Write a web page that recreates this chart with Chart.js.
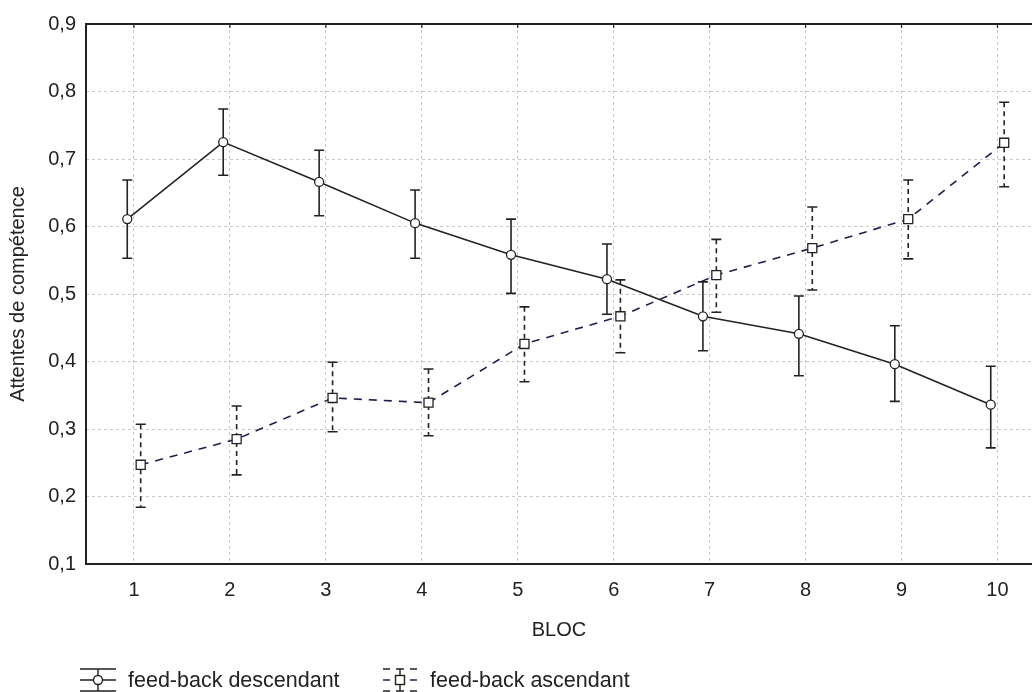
<!DOCTYPE html>
<html lang="fr">
<head>
<meta charset="UTF-8">
<title>Attentes de compétence par bloc</title>
<script src="https://cdn.jsdelivr.net/npm/chart.js"></script>
<style>
    html, body { margin: 0; padding: 0; background: #fff; overflow: hidden; }
    #wrap { width: 1032px; height: 692px; position: relative; }
    canvas { display: block; }
</style>
</head>
<body>
<div id="wrap"><canvas id="chart"></canvas></div>
<script>
// blocs
const BLOCS = [1, 2, 3, 4, 5, 6, 7, 8, 9, 10];
const Y_TICKS = [0.1, 0.2, 0.3, 0.4, 0.5, 0.6, 0.7, 0.8, 0.9];

// feed-back descendant : moyenne, borne basse, borne haute
const descMean = [0.611, 0.725, 0.666, 0.605, 0.558, 0.522, 0.467, 0.441, 0.396, 0.336];
const descLow  = [0.553, 0.676, 0.616, 0.553, 0.501, 0.470, 0.416, 0.379, 0.341, 0.272];
const descHigh = [0.669, 0.774, 0.713, 0.654, 0.611, 0.574, 0.518, 0.497, 0.453, 0.393];

// feed-back ascendant
const ascMean = [0.247, 0.285, 0.346, 0.339, 0.426, 0.467, 0.528, 0.568, 0.611, 0.724];
const ascLow  = [0.184, 0.232, 0.296, 0.290, 0.370, 0.413, 0.473, 0.506, 0.552, 0.659];
const ascHigh = [0.307, 0.334, 0.399, 0.389, 0.481, 0.521, 0.581, 0.629, 0.669, 0.784];

const LABELS = ['feed-back descendant', 'feed-back ascendant'];
const FONT = 'Arial, "Liberation Sans", sans-serif';
const INK = '#222';
const NAVY = '#1b1f4e';
const SHIFT = 0.07; // petit décalage horizontal entre les deux séries

const errLow = [descLow, ascLow];
const errHigh = [descHigh, ascHigh];

const errorBars = {
    id: 'errorBars',
    beforeDatasetsDraw(chart) {
        const ctx = chart.ctx;
        const y = chart.scales.y;
        chart.data.datasets.forEach((ds, di) => {
            const meta = chart.getDatasetMeta(di);
            ctx.save();
            ctx.strokeStyle = INK;
            ctx.lineWidth = 1.6;
            meta.data.forEach((pt, i) => {
                const top = y.getPixelForValue(errHigh[di][i]);
                const bot = y.getPixelForValue(errLow[di][i]);
                ctx.setLineDash(di === 1 ? [5, 4] : []);
                ctx.beginPath();
                ctx.moveTo(pt.x, top);
                ctx.lineTo(pt.x, bot);
                ctx.stroke();
                ctx.setLineDash([]);
                ctx.beginPath();
                ctx.moveTo(pt.x - 5, top); ctx.lineTo(pt.x + 5, top);
                ctx.moveTo(pt.x - 5, bot); ctx.lineTo(pt.x + 5, bot);
                ctx.stroke();
            });
            ctx.restore();
        });
    }
};

const frame = {
    id: 'frame',
    afterDraw(chart) {
        const ctx = chart.ctx;
        const a = chart.chartArea;
        ctx.save();
        ctx.setLineDash([]);
        ctx.strokeStyle = INK;
        ctx.lineWidth = 2;
        // axes + bord supérieur
        ctx.beginPath();
        ctx.moveTo(a.right, a.top);
        ctx.lineTo(a.left, a.top);
        ctx.lineTo(a.left, a.bottom);
        ctx.lineTo(a.right, a.bottom);
        ctx.stroke();
        // petites graduations sur le bord supérieur
        ctx.lineWidth = 1.2;
        ctx.beginPath();
        chart.scales.x.ticks.forEach(t => {
            const px = chart.scales.x.getPixelForValue(t.value);
            ctx.moveTo(px, a.top); ctx.lineTo(px, a.top + 4);
        });
        ctx.stroke();

        // légende
        const ly = 680;
        ctx.lineWidth = 1.4;
        // icône descendant
        let cx = 98;
        ctx.beginPath();
        ctx.moveTo(80, ly - 11); ctx.lineTo(116, ly - 11);
        ctx.moveTo(80, ly); ctx.lineTo(116, ly);
        ctx.moveTo(80, ly + 11); ctx.lineTo(116, ly + 11);
        ctx.moveTo(cx, ly - 11); ctx.lineTo(cx, ly + 11);
        ctx.stroke();
        ctx.beginPath();
        ctx.arc(cx, ly, 4.5, 0, Math.PI * 2);
        ctx.fillStyle = '#fff';
        ctx.fill();
        ctx.stroke();
        // icône ascendant
        cx = 400;
        ctx.beginPath();
        [ly - 11, ly + 11].forEach(yy => {
            ctx.moveTo(383, yy); ctx.lineTo(390, yy);
            ctx.moveTo(396, yy); ctx.lineTo(404, yy);
            ctx.moveTo(410, yy); ctx.lineTo(417, yy);
        });
        ctx.moveTo(cx, ly - 11); ctx.lineTo(cx, ly - 5);
        ctx.moveTo(cx, ly + 5); ctx.lineTo(cx, ly + 11);
        ctx.stroke();
        ctx.strokeStyle = NAVY;
        ctx.beginPath();
        ctx.moveTo(383, ly); ctx.lineTo(390, ly);
        ctx.moveTo(410, ly); ctx.lineTo(417, ly);
        ctx.stroke();
        ctx.strokeStyle = INK;
        ctx.fillStyle = '#fff';
        ctx.fillRect(cx - 4.5, ly - 4.5, 9, 9);
        ctx.strokeRect(cx - 4.5, ly - 4.5, 9, 9);

        ctx.fillStyle = INK;
        ctx.font = '21.5px ' + FONT;
        ctx.textBaseline = 'middle';
        ctx.fillText(LABELS[0], 128, ly + 1);
        ctx.fillText(LABELS[1], 430, ly + 1);
        ctx.restore();
    }
};

new Chart(document.getElementById('chart'), {
    type: 'line',
    data: {
        datasets: [
            {
                label: LABELS[0],
                data: BLOCS.map((b, i) => ({ x: b - SHIFT, y: descMean[i] })),
                borderColor: INK,
                borderWidth: 1.6,
                pointStyle: 'circle',
                pointRadius: 4.5,
                pointBackgroundColor: '#fff',
                pointBorderColor: INK,
                pointBorderWidth: 1.3
            },
            {
                label: LABELS[1],
                data: BLOCS.map((b, i) => ({ x: b + SHIFT, y: ascMean[i] })),
                borderColor: NAVY,
                borderWidth: 1.6,
                borderDash: [8, 7],
                pointStyle: 'rect',
                pointRadius: 6.4,
                pointBackgroundColor: '#fff',
                pointBorderColor: INK,
                pointBorderWidth: 1.3
            }
        ]
    },
    options: {
        responsive: true,
        maintainAspectRatio: false,
        animation: false,
        layout: { autoPadding: false, padding: { top: 24, right: 0, bottom: 50, left: 0 } },
        plugins: {
            legend: { display: false },
            tooltip: { enabled: false }
        },
        scales: {
            x: {
                type: 'linear',
                min: 0.5,
                max: 10.36,
                afterBuildTicks: axis => { axis.ticks = BLOCS.map(v => ({ value: v })); },
                afterFit: axis => { axis.height = 78; axis.paddingRight = 0; axis.paddingLeft = 0; },
                grid: { color: '#c8c8c8', lineWidth: 1, drawTicks: false },
                border: { display: false, dash: [3, 3] },
                ticks: {
                    padding: 14,
                    color: INK,
                    font: { family: FONT, size: 20 },
                    callback: v => String(v)
                },
                title: {
                    display: true,
                    text: 'BLOC',
                    color: INK,
                    font: { family: FONT, size: 20 },
                    padding: { top: 8, bottom: 0 }
                }
            },
            y: {
                min: 0.1,
                max: 0.9,
                afterBuildTicks: axis => { axis.ticks = Y_TICKS.map(v => ({ value: v })); },
                afterFit: axis => { axis.width = 86; axis.paddingTop = 0; axis.paddingBottom = 0; },
                grid: { color: '#c8c8c8', lineWidth: 1, drawTicks: false },
                border: { display: false, dash: [3, 3] },
                ticks: {
                    padding: 10,
                    color: INK,
                    font: { family: FONT, size: 20 },
                    callback: v => v.toFixed(1).replace('.', ',')
                },
                title: {
                    display: true,
                    text: 'Attentes de compétence',
                    color: INK,
                    font: { family: FONT, size: 20 },
                    padding: { top: 6, bottom: 0 }
                }
            }
        }
    },
    plugins: [errorBars, frame]
});
</script>
</body>
</html>
